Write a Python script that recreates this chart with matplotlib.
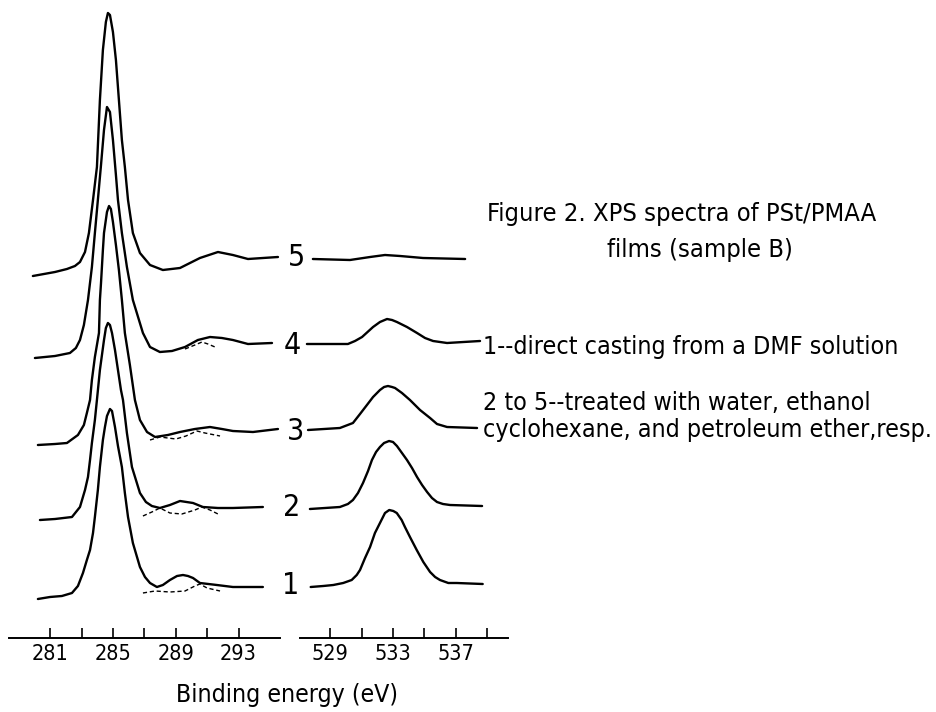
import matplotlib.pyplot as plt
from matplotlib import font_manager

# C 1s spectra: binding energy (eV) and stacked intensity (a.u.)
c1s_e1 = [280.22, 280.99, 281.75, 282.39, 282.77, 283.09, 283.34, 283.54, 283.73, 283.85, 284.04, 284.17,
          284.36, 284.49, 284.62, 284.81, 284.94, 285.13, 285.32, 285.57, 285.76, 285.96, 286.27, 286.72,
          287.04, 287.36, 287.80, 288.18, 288.63, 289.08, 289.46, 289.78, 290.10, 290.54, 291.62, 292.64, 294.55]
c1s_i1 = [39, 41, 42, 45, 52, 65, 78, 88, 105, 121, 148, 171, 198, 211, 222, 229, 227, 211, 192, 171, 145,
          121, 95, 71, 61, 55, 51, 53, 58, 62, 63, 62, 60, 55, 53, 51, 51]

c1s_e2 = [280.35, 281.31, 282.39, 282.90, 283.22, 283.41, 283.54, 283.66, 283.85, 283.98, 284.17, 284.43,
          284.55, 284.68, 284.81, 284.94, 285.13, 285.32, 285.51, 285.64, 285.89, 286.21, 286.72, 287.10,
          287.48, 287.99, 288.63, 289.27, 290.10, 290.73, 291.69, 292.64, 294.55]
c1s_i2 = [118, 119, 121, 131, 148, 161, 178, 195, 218, 238, 268, 298, 310, 315, 313, 305, 288, 268, 248,
          238, 205, 171, 145, 136, 132, 130, 133, 137, 135, 131, 130, 130, 131]

c1s_e3 = [280.22, 281.31, 282.07, 282.77, 283.15, 283.34, 283.54, 283.66, 283.85, 284.11, 284.17, 284.24,
          284.36, 284.43, 284.62, 284.75, 284.87, 285.00, 285.19, 285.38, 285.57, 285.76, 286.08, 286.40,
          286.72, 287.17, 287.68, 288.50, 289.27, 290.22, 291.18, 291.94, 292.64, 293.92, 295.51]
c1s_i3 = [193, 194, 195, 203, 213, 225, 238, 258, 281, 305, 338, 355, 388, 405, 426, 432, 429, 416, 393,
          368, 338, 305, 273, 238, 218, 206, 201, 203, 206, 209, 211, 209, 207, 206, 209]

c1s_e4 = [280.03, 281.31, 282.26, 282.64, 282.90, 283.15, 283.41, 283.66, 283.85, 284.04, 284.24, 284.43,
          284.62, 284.81, 285.00, 285.19, 285.32, 285.57, 285.89, 286.27, 286.91, 287.36, 287.99, 288.76,
          289.59, 290.41, 291.18, 291.94, 292.64, 293.60, 295.13]
c1s_i4 = [280, 282, 285, 290, 298, 313, 338, 371, 405, 438, 473, 508, 531, 526, 498, 463, 438, 405, 371,
          338, 305, 291, 286, 287, 291, 298, 301, 300, 298, 294, 295]

c1s_e5 = [279.90, 281.31, 282.07, 282.58, 282.90, 283.22, 283.47, 283.73, 283.98, 284.17, 284.36, 284.55,
          284.68, 284.81, 285.00, 285.19, 285.38, 285.57, 285.76, 285.96, 286.27, 286.72, 287.36, 288.18,
          289.27, 290.54, 291.69, 292.64, 293.60, 295.51]
c1s_i5 = [362, 366, 369, 372, 376, 386, 405, 438, 471, 538, 588, 616, 625, 623, 606, 578, 538, 498, 471,
          438, 405, 385, 373, 368, 370, 380, 386, 383, 379, 381]

# curve-fit components (dashed) under the C 1s satellite region
fit_e1 = [286.91, 287.68, 288.63, 289.59, 290.22, 290.54, 290.99, 291.82]
fit_i1 = [45, 47, 46, 47, 52, 54, 50, 47]
fit_e2 = [286.91, 287.48, 287.99, 288.63, 289.39, 290.22, 290.67, 291.18, 291.69]
fit_i2 = [122, 126, 130, 125, 124, 128, 131, 128, 124]
fit_e3 = [287.36, 287.99, 289.01, 289.65, 290.35, 290.86, 291.82]
fit_i3 = [198, 201, 199, 202, 207, 205, 202]
fit_e4 = [289.59, 290.22, 290.67, 291.05, 291.50]
fit_i4 = [289, 293, 296, 294, 291]

# O 1s spectra
o1s_e1 = [527.76, 528.56, 529.20, 529.83, 530.37, 530.69, 530.90, 531.22, 531.54, 531.85, 532.17, 532.49,
          532.76, 533.02, 533.24, 533.55, 533.76, 534.08, 534.51, 534.93, 535.36, 535.68, 535.99, 536.52,
          537.06, 538.71]
o1s_i1 = [51, 52, 53, 55, 58, 63, 68, 80, 91, 105, 115, 125, 128, 127, 125, 118, 111, 101, 88, 76, 66, 61,
          58, 55, 55, 54]
o1s_e2 = [527.71, 528.67, 529.62, 530.13, 530.45, 530.77, 531.09, 531.41, 531.66, 531.92, 532.17, 532.43,
          532.75, 533.00, 533.25, 533.57, 533.89, 534.21, 534.53, 534.85, 535.17, 535.48, 535.80, 536.18,
          536.63, 538.67]
o1s_i2 = [129, 130, 131, 134, 138, 145, 155, 167, 178, 186, 191, 195, 197, 196, 192, 185, 178, 170, 161,
          153, 146, 140, 136, 134, 133, 132]
o1s_e3 = [527.59, 529.62, 530.45, 530.90, 531.34, 531.73, 532.17, 532.43, 532.68, 532.94, 533.13, 533.57,
          534.08, 534.72, 535.36, 535.80, 536.44, 538.35]
o1s_i3 = [208, 210, 215, 224, 233, 241, 248, 251, 252, 251, 250, 245, 238, 228, 220, 214, 211, 210]
o1s_e4 = [527.52, 530.13, 530.58, 531.03, 531.73, 532.17, 532.62, 532.94, 533.25, 533.89, 534.53, 535.04,
          535.55, 536.44, 538.54]
o1s_i4 = [294, 294, 297, 301, 311, 316, 319, 318, 316, 311, 305, 300, 297, 295, 297]
o1s_e5 = [527.90, 530.26, 531.54, 532.49, 533.45, 534.91, 537.59]
o1s_i5 = [379, 378, 381, 383, 382, 380, 379]

curve_labels = ['1', '2', '3', '4', '5']

c1s_ticks = [281, 283, 285, 287, 289, 291, 293]
c1s_ticklabels = ['281', '', '285', '', '289', '', '293']
o1s_ticks = [529, 531, 533, 535, 537, 539]
o1s_ticklabels = ['529', '', '533', '', '537', '']

caption_title = ['Figure 2. XPS spectra of PSt/PMAA', 'films (sample B)']
caption_notes = ['1--direct casting from a DMF solution',
                 '2 to 5--treated with water, ethanol',
                 'cyclohexane, and petroleum ether,resp.']

# the scan uses a tall narrow typeface: take a narrow/condensed font if one is installed
family, stretch = 'DejaVu Sans', 'normal'
for f in font_manager.fontManager.ttflist:
    st = str(f.stretch)
    if ('condensed' in st or 'Narrow' in f.name or 'Condensed' in f.name) and f.style == 'normal':
        family, stretch = f.name, st
        break
plt.rcParams['font.family'] = [family, 'DejaVu Sans']
plt.rcParams['font.stretch'] = stretch

W, H = 937, 712


def px_box(x0, x1, y_top, y_bot):
    return [x0 / W, 1 - y_bot / H, (x1 - x0) / W, (y_bot - y_top) / H]


def fig_text(x, y, s, **kw):
    return fig.text(x / W, 1 - y / H, s, **kw)


def fit_width(t, target_px):
    w = t.get_window_extent(fig.canvas.get_renderer()).width
    t.set_fontsize(t.get_fontsize() * target_px / w)
    return t.get_fontsize()


fig = plt.figure(figsize=(9.37, 7.12), dpi=100)
ax_c = fig.add_axes(px_box(9, 280, 0, 638))
ax_o = fig.add_axes(px_box(300, 508, 0, 638))

for ax in (ax_c, ax_o):
    ax.patch.set_visible(False)
    for side in ('top', 'left', 'right'):
        ax.spines[side].set_visible(False)
    ax.spines['bottom'].set_linewidth(1.4)
    ax.set_ylim(0, 638)
    ax.set_yticks([])

ax_c.set_xlim(278.38, 295.64)
ax_c.set_xticks(c1s_ticks, c1s_ticklabels)
ax_o.set_xlim(527.08, 540.32)
ax_o.set_xticks(o1s_ticks, o1s_ticklabels)

c1s = [(c1s_e1, c1s_i1), (c1s_e2, c1s_i2), (c1s_e3, c1s_i3), (c1s_e4, c1s_i4), (c1s_e5, c1s_i5)]
o1s = [(o1s_e1, o1s_i1), (o1s_e2, o1s_i2), (o1s_e3, o1s_i3), (o1s_e4, o1s_i4), (o1s_e5, o1s_i5)]
fits = [(fit_e1, fit_i1), (fit_e2, fit_i2), (fit_e3, fit_i3), (fit_e4, fit_i4)]

for e, i in c1s:
    ax_c.plot(e, i, color='black', lw=1.7, clip_on=False, solid_capstyle='round', solid_joinstyle='round')
for e, i in fits:
    ax_c.plot(e, i, color='black', lw=1.0, ls=(0, (3, 2)), clip_on=False)
for e, i in o1s:
    ax_o.plot(e, i, color='black', lw=1.7, clip_on=False, solid_capstyle='round', solid_joinstyle='round')

# text sizes are matched to the widths the texts take in the scan
probe = fig_text(0, 0, '285', fontsize=16)
tick_size = fit_width(probe, 37)
probe.remove()
for ax in (ax_c, ax_o):
    ax.tick_params(axis='x', direction='in', length=7, width=1.2, pad=4, labelsize=tick_size)

# spectrum numbers between the two regions
label_pos = [(291, 586), (292, 508), (296, 431), (292, 345), (297, 257)]
for (x, y), s in zip(label_pos, curve_labels):
    fig_text(x, y, s, fontsize=tick_size * 1.4, ha='center', va='center')

xlab = fig_text(287, 695, 'Binding energy (eV)', fontsize=20, ha='center', va='center')
fit_width(xlab, 222)

t1 = fig_text(487, 214, caption_title[0], fontsize=16, ha='left', va='center')
title_size = fit_width(t1, 391)
fig_text(700, 250, caption_title[1], fontsize=title_size, ha='center', va='center')

n3 = fig_text(483, 430, caption_notes[2], fontsize=16, ha='left', va='center')
note_size = fit_width(n3, 450)
for y, s in zip([347, 403], caption_notes[:2]):
    fig_text(483, y, s, fontsize=note_size, ha='left', va='center')

fig.savefig('out.png', dpi=100)
